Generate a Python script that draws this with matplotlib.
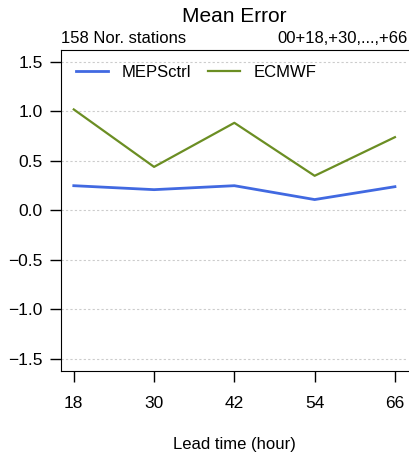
import matplotlib.pyplot as plt

plt.rcParams['font.family'] = ['Liberation Sans', 'DejaVu Sans']

# Dados
lead_time = [18, 30, 42, 54, 66]
meps_ctrl = [0.25, 0.21, 0.25, 0.11, 0.24]
ecmwf = [1.02, 0.44, 0.885, 0.35, 0.74]
yticks = [-1.5, -1.0, -0.5, 0.0, 0.5, 1.0, 1.5]

fig = plt.figure(figsize=(4.09, 4.59), dpi=100)
ax = fig.add_axes([0.149, 0.192, 0.848, 0.699])

for y in yticks:
    ax.axhline(y, color='#cccccc', lw=0.8, ls=(0, (2, 2)), zorder=0)

ax.plot(lead_time, meps_ctrl, color='#4169E1', lw=2, label='MEPSctrl')
ax.plot(lead_time, ecmwf, color='#6B8E23', lw=1.6, label='ECMWF')

ax.set_xlim(16.08, 67.92)
ax.set_ylim(-1.62, 1.62)
ax.set_xticks(lead_time)
ax.set_yticks(yticks)
ax.set_yticklabels(['\u22121.5', '\u22121.0', '\u22120.5', '0.0', '0.5', '1.0', '1.5'])
ax.tick_params(axis='both', labelsize=12.5, length=8, width=1)
ax.tick_params(axis='x', pad=10)
ax.tick_params(axis='y', pad=5)
ax.spines['right'].set_visible(False)

ax.set_xlabel('Lead time (hour)', fontsize=12, labelpad=19)
ax.text(0.5, 1.105, 'Mean Error', transform=ax.transAxes, ha='center', va='center', fontsize=15)
ax.text(0.0, 1.012, '158 Nor. stations', transform=ax.transAxes, ha='left', va='bottom', fontsize=12)
ax.text(1.0, 1.012, '00+18,+30,...,+66', transform=ax.transAxes, ha='right', va='bottom', fontsize=12)

ax.legend(loc='upper left', ncol=2, frameon=False, fontsize=12,
          handlelength=1.9, handletextpad=0.85, columnspacing=1.0,
          bbox_to_anchor=(0.0, 1.0))

plt.savefig('out.png', dpi=100)
